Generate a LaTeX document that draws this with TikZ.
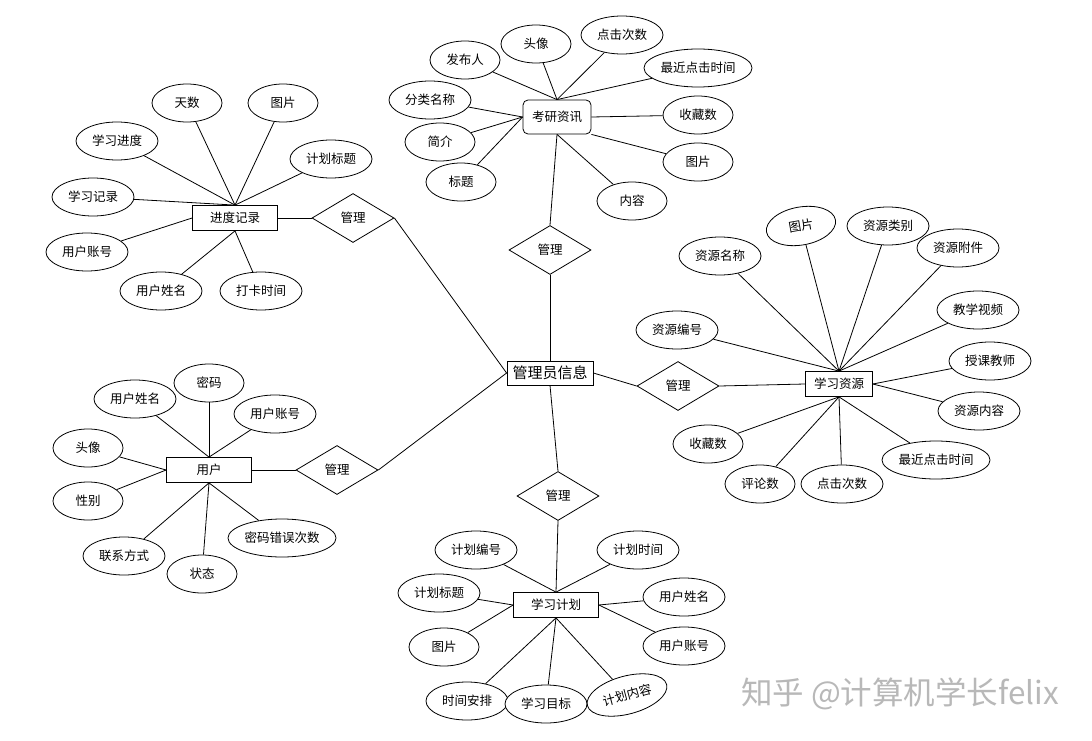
\documentclass[tikz,border=0pt]{standalone}
\usepackage{fontspec}
\setmainfont{Noto Sans CJK SC}
\usetikzlibrary{shapes.geometric}
\begin{document}
\begin{tikzpicture}[x=1pt,y=-1pt,
  every node/.style={font=\fontsize{12.5}{15}\selectfont},
  conn/.style={draw, line width=0.8pt},
  attr/.style={ellipse, draw, line width=0.8pt, minimum width=82, minimum height=38, inner sep=0pt, fill=white},
  attrs/.style={attr, minimum width=70},
  attrl/.style={attr, minimum width=108},
  entity/.style={rectangle, draw, line width=0.8pt, minimum width=85, minimum height=25, inner sep=0pt, fill=white},
  rel/.style={diamond, draw, line width=0.8pt, minimum width=82, minimum height=49, inner sep=0pt, aspect=1.67, fill=white}]
\useasboundingbox (0,0) rectangle (1092,741);
\fill[white] (0,0) rectangle (1092,741);

% central entity and relations
\node[entity, minimum width=86, minimum height=24, font=\fontsize{15}{18}\selectfont] (adm) at (550,373) {管理员信息};
\node[rel] (dT) at (550,250) {管理};
\node[rel] (dR) at (678,386) {管理};
\node[rel] (dB) at (558,496) {管理};
\node[rel] (dUL) at (353,218) {管理};
\node[rel] (dLL) at (337,470) {管理};

% entities
\node[entity, minimum width=68, minimum height=34, rounded corners=5pt] (kyzx) at (557,117) {考研资讯};
\node[entity] (jdjl) at (235,218) {进度记录};
\node[entity] (yh) at (209,470) {用户};
\node[entity, minimum width=67] (xxzy) at (839,384) {学习资源};
\node[entity] (xxjh) at (556,605) {学习计划};

% 考研资讯 attributes
\node[attrs] (k1) at (536,44) {头像};
\node[attr] (k2) at (622,35) {点击次数};
\node[attrs] (k3) at (465,60) {发布人};
\node[attrl] (k4) at (698,68) {最近点击时间};
\node[attr] (k5) at (430,100) {分类名称};
\node[attrs] (k6) at (698,115) {收藏数};
\node[attrs] (k7) at (440,142) {简介};
\node[attrs] (k8) at (698,162) {图片};
\node[attrs] (k9) at (461,182) {标题};
\node[attrs] (k10) at (632,201) {内容};

% 进度记录 attributes
\node[attrs] (j1) at (187,103) {天数};
\node[attrs] (j2) at (283,103) {图片};
\node[attr] (j3) at (117,141) {学习进度};
\node[attr] (j4) at (331,159) {计划标题};
\node[attr] (j5) at (93,197) {学习记录};
\node[attr] (j6) at (87,252) {用户账号};
\node[attr] (j7) at (161,291) {用户姓名};
\node[attr] (j8) at (261,291) {打卡时间};

% 用户 attributes
\node[attrs] (u1) at (209,383) {密码};
\node[attr] (u2) at (135,399) {用户姓名};
\node[attr] (u3) at (275,414) {用户账号};
\node[attrs] (u4) at (88,448) {头像};
\node[attrs] (u5) at (88,501) {性别};
\node[attrl] (u6) at (282,538) {密码错误次数};
\node[attr] (u7) at (124,556) {联系方式};
\node[attrs] (u8) at (202,574) {状态};

% 学习资源 attributes
\node[attrs, rotate=10] (r1) at (801,226) {图片};
\node[attr] (r2) at (888,226) {资源类别};
\node[attr] (r3) at (720,256) {资源名称};
\node[attr] (r4) at (958,248) {资源附件};
\node[attr] (r5) at (978,310) {教学视频};
\node[attr] (r6) at (677,330) {资源编号};
\node[attr] (r7) at (990,361) {授课教师};
\node[attr] (r8) at (979,411) {资源内容};
\node[attrs] (r9) at (708,444) {收藏数};
\node[attrl] (r10) at (936,460) {最近点击时间};
\node[attrs] (r11) at (760,484) {评论数};
\node[attr] (r12) at (842,484) {点击次数};

% 学习计划 attributes
\node[attr] (p1) at (476,550) {计划编号};
\node[attr] (p2) at (638,550) {计划时间};
\node[attr] (p3) at (439,593) {计划标题};
\node[attr] (p4) at (684,597) {用户姓名};
\node[attrs] (p5) at (444,647) {图片};
\node[attr] (p6) at (684,646) {用户账号};
\node[attr] (p7) at (467,701) {时间安排};
\node[attr] (p8) at (546,704) {学习目标};
\node[attr, rotate=15] (p9) at (627,695) {计划内容};

% relations
\draw[conn] (adm.north) -- (dT.south);
\draw[conn] (dT.north) -- (kyzx.south);
\draw[conn] (adm.east) -- (dR.west);
\draw[conn] (dR.east) -- (xxzy.west);
\draw[conn] (adm.south) -- (dB.north);
\draw[conn] (dB.south) -- (xxjh.north);
\draw[conn] (adm.west) -- (dUL.east);
\draw[conn] (dUL.west) -- (jdjl.east);
\draw[conn] (adm.west) -- (dLL.east);
\draw[conn] (dLL.west) -- (yh.east);

% 考研资讯
\foreach \n in {k1,k2,k3,k4} \draw[conn] (kyzx.north) -- (\n);
\foreach \n in {k5,k7,k9} \draw[conn] (kyzx.west) -- (\n);
\draw[conn] (kyzx.east) -- (k6);
\draw[conn] (kyzx.south east) -- (k8);
\draw[conn] (kyzx.south) -- (k10);

% 进度记录
\foreach \n in {j1,j2,j3,j4,j5} \draw[conn] (jdjl.north) -- (\n);
\draw[conn] (jdjl.west) -- (j6);
\foreach \n in {j7,j8} \draw[conn] (jdjl.south) -- (\n);

% 用户
\foreach \n in {u1,u2,u3} \draw[conn] (yh.north) -- (\n);
\foreach \n in {u4,u5} \draw[conn] (yh.west) -- (\n);
\foreach \n in {u6,u7,u8} \draw[conn] (yh.south) -- (\n);

% 学习资源
\foreach \n in {r1,r2,r3,r4,r5,r6} \draw[conn] (xxzy.north) -- (\n);
\foreach \n in {r7,r8} \draw[conn] (xxzy.east) -- (\n);
\foreach \n in {r9,r10,r11,r12} \draw[conn] (xxzy.south) -- (\n);

% 学习计划
\foreach \n in {p1,p2} \draw[conn] (xxjh.north) -- (\n);
\foreach \n in {p3,p5} \draw[conn] (xxjh.west) -- (\n);
\foreach \n in {p4,p6} \draw[conn] (xxjh.east) -- (\n);
\foreach \n in {p7,p8,p9} \draw[conn] (xxjh.south) -- (\n);

% watermark
\node[text=black!28, font=\fontsize{31.5}{36}\selectfont, inner sep=0pt] (wm) at (900,694) {知乎 @计算机学长felix};
\end{tikzpicture}
\end{document}
